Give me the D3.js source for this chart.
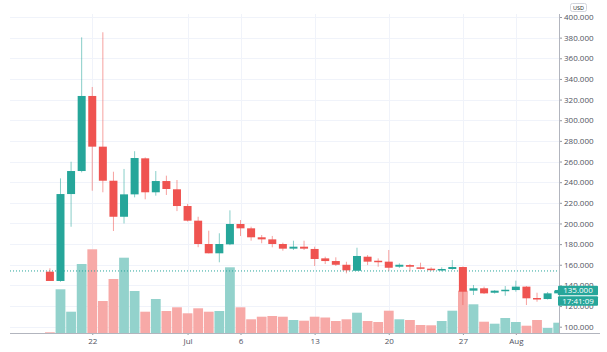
<!DOCTYPE html>
<html>
<head>
<meta charset="utf-8">
<script src="https://cdn.jsdelivr.net/npm/d3@7"></script>
<style>
  body { margin: 0; background: #fff; }
  text { font-family: "Open Sans", sans-serif; }
</style>
</head>
<body>
<script>
// daily candles, 18 Jun .. 5 Aug
var startDay = Date.UTC(2020, 5, 18);
var opens  = [153.3,144.3,228.5,250.8,323.5,274.4,241.4,206.5,228.2,263.1,230.2,241.1,233.1,216.9,202.7,180.1,171.1,179.8,199.5,195.3,186.6,184.6,180.1,175.6,177.5,175.3,166.2,163.6,160.0,154.2,167.8,163.9,163.0,158.1,159.7,157.5,156.2,155.0,155.9,157.8,134.9,137.2,132.9,135.3,135.5,138.8,127.8,126.8,132.3];
var highs  = [156.6,243.7,259.8,380.3,332.2,385.2,250.1,252.8,270.0,264.0,250.8,246.3,242.1,218.9,206.5,193.0,190.5,212.7,203.3,196.9,188.8,187.9,181.4,183.3,183.3,177.5,167.8,167.2,162.9,176.5,169.4,166.2,174.3,161.4,160.7,162.0,157.5,157.5,164.6,158.3,140.4,138.8,135.5,139.4,144.6,139.4,132.9,133.6,136.0];
var lows   = [144.3,143.5,196.8,249.5,231.7,230.2,192.7,200.0,225.3,223.4,226.9,227.6,212.0,201.9,177.0,171.0,162.4,179.0,187.8,183.3,180.8,176.9,173.6,174.3,174.3,158.8,160.7,158.8,151.7,154.0,159.7,158.1,154.2,156.9,153.6,155.6,154.2,153.6,155.0,121.0,130.7,131.7,132.0,130.0,133.9,121.0,124.2,126.3,131.0];
var closes = [144.3,228.5,250.8,323.5,274.4,241.4,206.5,228.2,263.4,230.2,241.1,233.4,216.9,202.7,180.1,171.1,180.1,199.5,195.3,186.6,184.6,180.1,175.6,177.5,175.6,165.6,163.6,160.0,154.6,168.5,163.0,163.0,157.1,160.0,158.1,156.2,155.0,155.9,157.8,133.9,137.2,132.3,134.9,135.8,138.8,127.5,127.1,132.3,135.0];
var volumes = [0.7,43.7,21.3,69,83.7,32,54,75.3,42,21.3,34,22,25.7,19.7,24.7,21.3,22,65.7,25.7,13.7,16.3,17,16.3,13,12.3,16.3,15.5,12,13.7,20.3,12,11,22.3,13.7,13,8,7.7,12,22.3,42.3,28.7,11.3,9.3,15,11,7.3,13,5,10.3];

var dateTicks = [Date.UTC(2020,5,22), Date.UTC(2020,6,1), Date.UTC(2020,6,6), Date.UTC(2020,6,13), Date.UTC(2020,6,20), Date.UTC(2020,6,27), Date.UTC(2020,7,1)];
var dateLabels = ["22", "Jul", "6", "13", "20", "27", "Aug"];
var priceTicks = d3.range(100, 401, 20);
var prevClose = 154;
var lastPrice = 135;
var timeLeft = "17:41:09";

var data = opens.map(function(o, i) {
    return {date: new Date(startDay + i*86400000), o: o, h: highs[i], l: lows[i], c: closes[i], v: volumes[i]};
});

var green = "#26a69a", red = "#ef5350";

var svg = d3.select("body")
    .append("svg")
    .attr("width", 607)
    .attr("height", 352)
    .style("display", "block");

var plotLeft = 10, plotRight = 559, plotTop = 14, plotBottom = 333;

var x = d3.scaleUtc()
    .domain([data[0].date, data[data.length-1].date])
    .range([49.9, 558.2]);

var y = d3.scaleLinear()
    .domain([100, 400])
    .range([326.7, 17]);

var yVol = d3.scaleLinear()
    .domain([0, 100])
    .range([plotBottom, plotBottom - 100]);

svg.append("clipPath").attr("id", "plot")
    .append("rect").attr("x", plotLeft).attr("y", plotTop)
    .attr("width", plotRight - plotLeft).attr("height", plotBottom - plotTop);

// grid
svg.append("g").selectAll("line")
    .data(priceTicks).enter().append("line")
    .attr("x1", plotLeft).attr("x2", plotRight)
    .attr("y1", function(d){ return Math.round(y(d)) + 0.5; })
    .attr("y2", function(d){ return Math.round(y(d)) + 0.5; })
    .attr("stroke", "#f0f3fa");

svg.append("g").selectAll("line")
    .data(dateTicks).enter().append("line")
    .attr("x1", function(d){ return Math.round(x(d)) + 0.5; })
    .attr("x2", function(d){ return Math.round(x(d)) + 0.5; })
    .attr("y1", plotTop).attr("y2", plotBottom)
    .attr("stroke", "#f0f3fa");

var plot = svg.append("g").attr("clip-path", "url(#plot)");
var step = x(data[1].date) - x(data[0].date);

// volume
plot.selectAll("rect.vol")
    .data(data).enter().append("rect")
    .attr("class", "vol")
    .attr("x", function(d){ return x(d.date) - step/2 + 0.4; })
    .attr("width", step - 0.8)
    .attr("y", function(d){ return yVol(d.v); })
    .attr("height", function(d){ return plotBottom - yVol(d.v); })
    .attr("fill", function(d){ return d.c >= d.o ? "#93d2cc" : "#f7a9a7"; });

// previous close
plot.append("line")
    .attr("x1", plotLeft).attr("x2", plotRight)
    .attr("y1", y(prevClose)).attr("y2", y(prevClose))
    .attr("stroke", green)
    .attr("stroke-dasharray", "1,2");

// candles
var candle = plot.selectAll("g.candle")
    .data(data).enter().append("g").attr("class", "candle");

candle.append("line")
    .attr("x1", function(d){ return x(d.date); })
    .attr("x2", function(d){ return x(d.date); })
    .attr("y1", function(d){ return y(d.h); })
    .attr("y2", function(d){ return y(d.l); })
    .attr("stroke", function(d){ return d.c >= d.o ? green : red; })
    .attr("stroke-opacity", 0.55);

candle.append("rect")
    .attr("x", function(d){ return x(d.date) - 4; })
    .attr("width", 8)
    .attr("y", function(d){ return y(Math.max(d.o, d.c)); })
    .attr("height", function(d){ return Math.max(1.5, Math.abs(y(d.o) - y(d.c))); })
    .attr("fill", function(d){ return d.c >= d.o ? green : red; });

// axes
var yAxis = d3.axisRight(y)
    .tickValues(priceTicks)
    .tickSize(3)
    .tickPadding(2)
    .tickFormat(d3.format(".3f"));

var gy = svg.append("g")
    .attr("transform", "translate(" + plotRight + ",0)")
    .call(yAxis);
gy.select(".domain").remove();
gy.selectAll("line").attr("stroke", "#9598a1");
gy.selectAll("text").style("font-size", "8px").attr("fill", "#50535e");

var xAxis = d3.axisBottom(x)
    .tickValues(dateTicks.map(function(d){ return new Date(d); }))
    .tickSize(2)
    .tickPadding(3)
    .tickFormat(function(d, i){ return dateLabels[i]; });

var gx = svg.append("g")
    .attr("transform", "translate(0," + plotBottom + ")")
    .call(xAxis);
gx.select(".domain").remove();
gx.selectAll("line").attr("stroke", "#9598a1");
gx.selectAll("text").style("font-size", "8px").attr("fill", "#50535e");

svg.append("line")
    .attr("x1", plotLeft).attr("x2", 600)
    .attr("y1", plotBottom + 0.5).attr("y2", plotBottom + 0.5)
    .attr("stroke", "#b2b5be");
svg.append("line")
    .attr("x1", plotRight + 0.5).attr("x2", plotRight + 0.5)
    .attr("y1", plotTop).attr("y2", plotBottom)
    .attr("stroke", "#b2b5be");

// currency
svg.append("rect")
    .attr("x", 570.5).attr("y", 3.5).attr("width", 16).attr("height", 8).attr("rx", 2)
    .attr("fill", "#fff").attr("stroke", "#d1d4dc");
svg.append("text")
    .attr("x", 578.5).attr("y", 9.8)
    .attr("text-anchor", "middle")
    .style("font-size", "5.5px")
    .attr("fill", "#131722")
    .text("USD");

// last price label
var ly = y(lastPrice);
svg.append("line")
    .attr("x1", 555).attr("x2", 559).attr("y1", ly).attr("y2", ly)
    .attr("stroke", green);
svg.append("rect")
    .attr("x", 558).attr("y", ly - 4.7).attr("width", 40).attr("height", 9.5).attr("rx", 1)
    .attr("fill", green);
svg.append("rect")
    .attr("x", 558).attr("y", ly + 5.6).attr("width", 40).attr("height", 9.5).attr("rx", 1)
    .attr("fill", green);
svg.append("text")
    .attr("x", 578).attr("y", ly + 2.9)
    .attr("text-anchor", "middle")
    .style("font-size", "8px")
    .attr("fill", "#fff")
    .text(d3.format(".3f")(lastPrice));
svg.append("text")
    .attr("x", 578).attr("y", ly + 13.2)
    .attr("text-anchor", "middle")
    .style("font-size", "8px")
    .attr("fill", "#fff")
    .text(timeLeft);
</script>
</body>
</html>
